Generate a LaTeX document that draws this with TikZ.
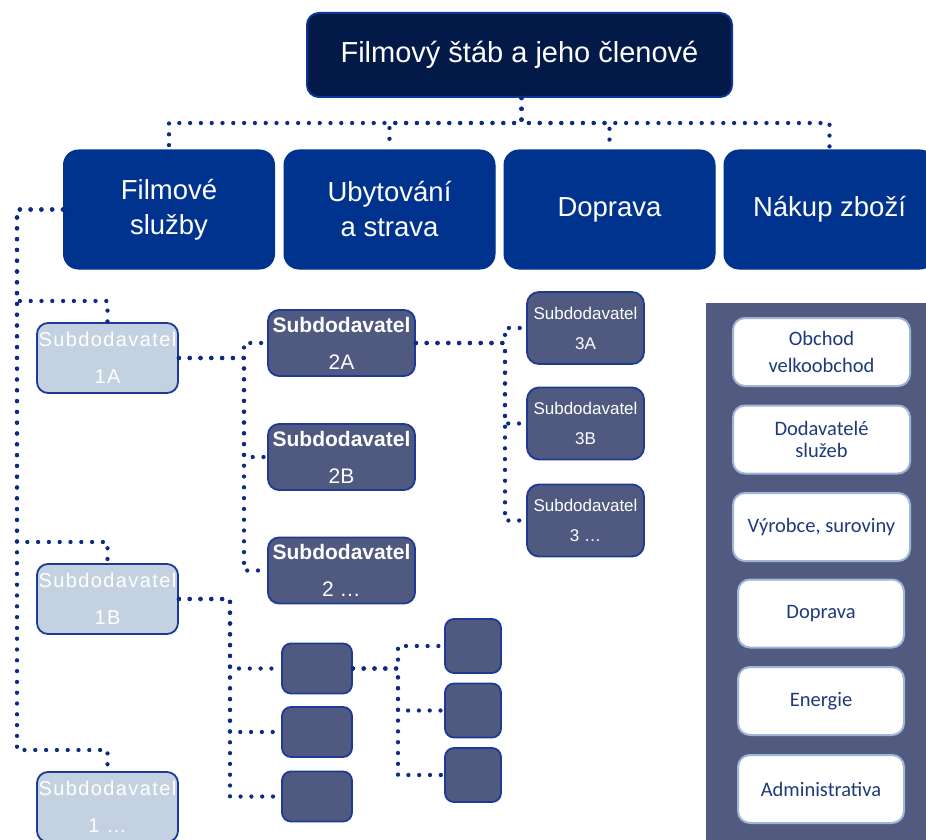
\documentclass[tikz,border=0pt]{standalone}
\usepackage{fontspec}
\setmainfont{Liberation Sans}
\newfontfamily\calfont{Carlito}
\newfontfamily\spacedfont[LetterSpace=7]{Liberation Sans}
\definecolor{titlefill}{RGB}{3,26,72}
\definecolor{titledraw}{RGB}{14,52,150}
\definecolor{lvone}{RGB}{0,51,141}
\definecolor{lightfill}{RGB}{195,209,224}
\definecolor{darkfill}{RGB}{80,89,128}
\definecolor{boxedge}{RGB}{30,58,148}
\definecolor{panelc}{RGB}{82,91,127}
\definecolor{wedge}{RGB}{160,182,214}
\definecolor{wtext}{RGB}{31,58,122}
\definecolor{linec}{RGB}{12,44,132}
\tikzset{
  conn/.style={linec, line width=4.3pt, line cap=round, dash pattern=on 0pt off 10.8pt},
  titlebox/.style={rounded corners=12pt, fill=titlefill, draw=titledraw, line width=2pt,
    minimum width=425pt, minimum height=84pt, inner sep=0pt, text=white,
    font=\fontsize{29}{35}\selectfont},
  lone/.style={rounded corners=15pt, fill=lvone, draw=lvone, line width=1pt,
    minimum width=211pt, minimum height=119pt, inner sep=0pt, text=white, align=center,
    font=\fontsize{27.5}{35}\selectfont},
  light/.style={rounded corners=11pt, fill=lightfill, draw=boxedge, line width=1.8pt,
    minimum width=141pt, minimum height=70pt, inner sep=0pt, text=white, align=center,
    font=\spacedfont\fontsize{20}{37}\selectfont},
  dark/.style={rounded corners=11pt, fill=darkfill, draw=boxedge, line width=1.8pt,
    inner sep=0pt, text=white, align=center},
  twobox/.style={dark, minimum width=147pt, minimum height=66pt, font=\fontsize{21}{37}\selectfont},
  threebox/.style={dark, minimum width=117pt, minimum height=72pt, rounded corners=12pt, font=\fontsize{17}{30}\selectfont},
  smallbox/.style={dark, minimum width=70pt, minimum height=50pt, rounded corners=9pt},
  tinybox/.style={dark, minimum width=56pt, minimum height=54pt, rounded corners=9pt},
  wbox/.style={rounded corners=12pt, fill=white, draw=wedge, line width=2pt,
    inner sep=0pt, text=wtext, align=center, minimum height=68pt},
}
\begin{document}
\begin{tikzpicture}[x=1pt,y=-1pt]
\useasboundingbox (0,0) rectangle (926,840);
\clip (0,0) rectangle (926,840);
% right panel
\fill[panelc] (706,303) rectangle (950,860);
% named coordinates for connector elbows
\coordinate (lbus) at (17,209.5);
\coordinate (b1) at (244,358);
\coordinate (b2) at (505,343);
\coordinate (b3) at (230,599);
\coordinate (b4) at (398,668.5);
% nodes
\node[titlebox] (title) at (519.5,55) {Filmový štáb a jeho členové};
\node[lone] (la) at (169,209.5) {Filmové\\služby};
\node[lone] (lb) at (389.5,209.5) {Ubytování\\a strava};
\node[lone] (lc) at (609.5,209.5) {Doprava};
\node[lone] (ld) at (829.5,209.5) {Nákup zboží};
% connectors from title
\draw[conn] ([xshift=2pt]title.south) -- ++(0,25) -| (la.north);
\draw[conn] ([xshift=2pt]title.south) -- ++(0,25) -| (lb.north);
\draw[conn] ([xshift=2pt]title.south) -- ++(0,25) -| (lc.north);
\draw[conn] ([xshift=2pt]title.south) -- ++(0,25) -| (ld.north);
% light boxes
\node[light] (s1a) at (107.5,358) {Subdodavatel\\1A};
\node[light] (s1b) at (107.5,599) {Subdodavatel\\1B};
\node[light] (s1c) at (107.5,807) {Subdodavatel\\1 …};
% level 2 dark
\node[twobox] (s2a) at (341.5,343) {\textbf{Subdodavatel}\\2A};
\node[twobox] (s2b) at (341.5,457) {\textbf{Subdodavatel}\\2B};
\node[twobox] (s2c) at (341.5,570.5) {\textbf{Subdodavatel}\\2 …};
% level 3 dark
\node[threebox] (s3a) at (585.5,328) {Subdodavatel\\3A};
\node[threebox] (s3b) at (585.5,423.5) {Subdodavatel\\3B};
\node[threebox] (s3c) at (585.5,520.5) {Subdodavatel\\3 …};
% small boxes
\node[smallbox] (ta) at (317,668.5) {};
\node[smallbox] (tb) at (317,732) {};
\node[smallbox] (tc) at (317,796.5) {};
\node[tinybox] (ua) at (473,646) {};
\node[tinybox] (ub) at (473,710.5) {};
\node[tinybox] (uc) at (473,775) {};
% white boxes
\node[wbox, minimum width=177pt, font=\calfont\fontsize{20.5}{27}\selectfont] (w1) at (821.5,352) {Obchod\\velkoobchod};
\node[wbox, minimum width=177pt, font=\calfont\fontsize{20.5}{22}\selectfont] (w2) at (821.5,439.5) {Dodavatelé\\služeb};
\node[wbox, minimum width=177pt, font=\calfont\fontsize{20.5}{22}\selectfont] (w3) at (821.5,527) {Výrobce, suroviny};
\node[wbox, minimum width=166pt, font=\calfont\fontsize{20.5}{22}\selectfont] (w4) at (821,613.5) {Doprava};
\node[wbox, minimum width=166pt, font=\calfont\fontsize{20.5}{22}\selectfont] (w5) at (821,701) {Energie};
\node[wbox, minimum width=166pt, font=\calfont\fontsize{20.5}{22}\selectfont] (w6) at (821,789) {Administrativa};
% left connectors
\draw[conn] (la.west) -- (lbus) -- (17,301) -| (s1a.north);
\draw[conn] (la.west) -- (lbus) -- (17,542) -| (s1b.north);
\draw[conn] (la.west) -- (lbus) -- (17,750) -| (s1c.north);
% 1A to level 2
\draw[conn] (s1a.east) -- (b1) |- (s2a.west);
\draw[conn] (s1a.east) -- (b1) |- (s2b.west);
\draw[conn] (s1a.east) -- (b1) |- (s2c.west);
% 2A to level 3
\draw[conn] (s2a.east) -- (b2) |- (s3a.west);
\draw[conn] (s2a.east) -- (b2) |- (s3b.west);
\draw[conn] (s2a.east) -- (b2) |- (s3c.west);
% 1B to small
\draw[conn] (s1b.east) -- (b3) |- (ta.west);
\draw[conn] (s1b.east) -- (b3) |- (tb.west);
\draw[conn] (s1b.east) -- (b3) |- (tc.west);
% small to tiny
\draw[conn] (ta.east) -- (b4) |- (ua.west);
\draw[conn] (ta.east) -- (b4) |- (ub.west);
\draw[conn] (ta.east) -- (b4) |- (uc.west);
\end{tikzpicture}
\end{document}
